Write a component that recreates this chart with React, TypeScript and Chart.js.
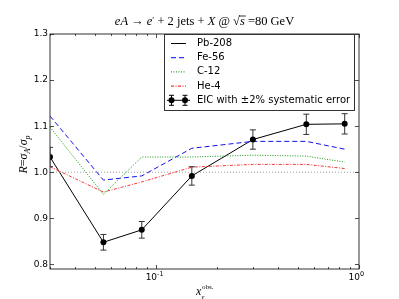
import React, { useEffect, useRef } from "react";
import { Chart, registerables } from "chart.js";

Chart.register(...registerables);

const xValues = [0.03, 0.055, 0.085, 0.15, 0.3, 0.55, 0.85];
const pb208 = [1.033, 0.848, 0.875, 0.992, 1.071, 1.104, 1.105];
const eicErr = [0.021, 0.017, 0.018, 0.02, 0.021, 0.022, 0.022];
const fe56 = [1.122, 0.983, 0.992, 1.052, 1.067, 1.067, 1.05];
const c12 = [1.098, 0.952, 1.033, 1.033, 1.037, 1.035, 1.022];
const he4 = [1.012, 0.957, 0.979, 1.011, 1.017, 1.017, 1.008];
const refX = [0.03, 1.0];
const refY = [1.0, 1.0];
const yTicks = [0.8, 0.9, 1.0, 1.1, 1.2, 1.3];
const yTickLabels = ["0.8", "0.9", "1.0", "1.1", "1.2", "1.3"];
const xMajor = [0.1, 1.0];
const xMajorExp = ["-1", "0"];
const xMinor = [0.03, 0.04, 0.05, 0.06, 0.07, 0.08, 0.09, 0.2, 0.3, 0.4, 0.5, 0.6, 0.7, 0.8, 0.9];

const legendItems = [
  { label: "Pb-208", color: "#000000", dash: [] as number[], kind: "line" },
  { label: "Fe-56", color: "#0000ff", dash: [5, 3], kind: "line" },
  { label: "C-12", color: "#008000", dash: [1, 1.5], kind: "line" },
  { label: "He-4", color: "#ff0000", dash: [3, 1.5, 1, 1.5], kind: "line" },
  { label: "EIC with \u00b12% systematic error", color: "#000000", dash: [], kind: "err" },
];

const SANS = "'DejaVu Sans', sans-serif";
const SERIF = "'Liberation Serif', 'DejaVu Serif', serif";

function pts(ys: number[]) {
  return xValues.map((x, i) => ({ x, y: ys[i] }));
}

type Seg = { t: string; it?: boolean; dy?: number; size?: number; over?: boolean };

function drawSegs(ctx: CanvasRenderingContext2D, segs: Seg[], cx: number, y: number, base: number) {
  const font = (s: Seg) => `${s.it ? "italic " : ""}${s.size ?? base}px ${SERIF}`;
  let total = 0;
  for (const s of segs) {
    ctx.font = font(s);
    total += ctx.measureText(s.t).width;
  }
  let x = cx - total / 2;
  ctx.textAlign = "left";
  ctx.textBaseline = "alphabetic";
  for (const s of segs) {
    ctx.font = font(s);
    const w = ctx.measureText(s.t).width;
    ctx.fillText(s.t, x, y + (s.dy ?? 0));
    if (s.over) {
      ctx.beginPath();
      ctx.lineWidth = 0.8;
      ctx.moveTo(x - 1, y - base * 0.72);
      ctx.lineTo(x + w + 1, y - base * 0.72);
      ctx.stroke();
    }
    x += w;
  }
}

const decorPlugin = {
  id: "decor",
  afterDatasetsDraw(chart: any) {
    const ctx: CanvasRenderingContext2D = chart.ctx;
    const { left, right, top, bottom } = chart.chartArea;
    const xs = chart.scales.x;
    const ys = chart.scales.y;
    ctx.save();
    // error bars
    ctx.save();
    ctx.beginPath();
    ctx.rect(left, top, right - left, bottom - top);
    ctx.clip();
    ctx.strokeStyle = "#333";
    ctx.lineWidth = 1;
    xValues.forEach((xv, i) => {
      const px = xs.getPixelForValue(xv);
      const y1 = ys.getPixelForValue(pb208[i] + eicErr[i]);
      const y2 = ys.getPixelForValue(pb208[i] - eicErr[i]);
      ctx.beginPath();
      ctx.moveTo(px, y1);
      ctx.lineTo(px, y2);
      ctx.moveTo(px - 3, y1);
      ctx.lineTo(px + 3, y1);
      ctx.moveTo(px - 3, y2);
      ctx.lineTo(px + 3, y2);
      ctx.stroke();
      ctx.beginPath();
      ctx.fillStyle = "#000";
      ctx.arc(px, ys.getPixelForValue(pb208[i]), 3, 0, Math.PI * 2);
      ctx.fill();
    });
    ctx.restore();

    // frame
    ctx.strokeStyle = "#333";
    ctx.lineWidth = 1;
    ctx.strokeRect(left, top, right - left, bottom - top);

    // ticks
    ctx.lineWidth = 0.8;
    ctx.strokeStyle = "#222";
    ctx.beginPath();
    yTicks.forEach((v) => {
      const py = Math.round(ys.getPixelForValue(v)) + 0.5;
      ctx.moveTo(left, py);
      ctx.lineTo(left + 4, py);
      ctx.moveTo(right, py);
      ctx.lineTo(right - 4, py);
    });
    xMajor.forEach((v) => {
      const px = Math.round(xs.getPixelForValue(v)) + 0.5;
      ctx.moveTo(px, bottom);
      ctx.lineTo(px, bottom - 4);
      ctx.moveTo(px, top);
      ctx.lineTo(px, top + 4);
    });
    xMinor.forEach((v) => {
      const px = Math.round(xs.getPixelForValue(v)) + 0.5;
      ctx.moveTo(px, bottom);
      ctx.lineTo(px, bottom - 2);
      ctx.moveTo(px, top);
      ctx.lineTo(px, top + 2);
    });
    ctx.stroke();

    // tick labels
    ctx.fillStyle = "#000";
    ctx.font = `9px ${SANS}`;
    ctx.textAlign = "right";
    ctx.textBaseline = "middle";
    yTicks.forEach((v, i) => {
      ctx.fillText(yTickLabels[i], left - 2, ys.getPixelForValue(v));
    });
    xMajor.forEach((v, i) => {
      const px = xs.getPixelForValue(v);
      ctx.font = `9px ${SANS}`;
      ctx.textAlign = "right";
      ctx.textBaseline = "alphabetic";
      ctx.fillText("10", px + 1, bottom + 11);
      ctx.font = `6.5px ${SANS}`;
      ctx.textAlign = "left";
      ctx.fillText(xMajorExp[i], px + 1, bottom + 7);
    });

    // title
    ctx.fillStyle = "#000";
    ctx.strokeStyle = "#000";
    const cx = (left + right) / 2;
    drawSegs(
      ctx,
      [
        { t: "eA", it: true },
        { t: " \u2192 " },
        { t: "e", it: true },
        { t: "\u2032", dy: -2, size: 9 },
        { t: " + 2 jets + " },
        { t: "X", it: true },
        { t: " @ \u221a" },
        { t: "s", it: true, over: true },
        { t: " =80 GeV" },
      ],
      cx,
      25,
      12.5
    );

    // x label
    const xl = "x";
    ctx.font = `italic 12px ${SERIF}`;
    const wx = ctx.measureText(xl).width;
    ctx.font = `7px ${SERIF}`;
    const wsup = ctx.measureText("obs.").width;
    const lx = cx - (wx + wsup) / 2;
    ctx.textAlign = "left";
    ctx.textBaseline = "alphabetic";
    ctx.font = `italic 12px ${SERIF}`;
    ctx.fillText(xl, lx, 295);
    ctx.font = `7px ${SERIF}`;
    ctx.fillText("obs.", lx + wx + 0.5, 289);
    ctx.font = `italic 7px ${SERIF}`;
    ctx.fillText("\u03b3", lx + wx, 299);

    // y label
    ctx.save();
    ctx.translate(27, (top + bottom) / 2 + 3);
    ctx.rotate(-Math.PI / 2);
    const ysegs: { t: string; it?: boolean; size: number; dy: number }[] = [
      { t: "R", it: true, size: 12, dy: 0 },
      { t: "=", size: 12, dy: 0 },
      { t: "\u03c3", it: true, size: 12, dy: 0 },
      { t: "A", it: true, size: 8, dy: 2.5 },
      { t: "/", size: 12, dy: 0 },
      { t: "\u03c3", it: true, size: 12, dy: 0 },
      { t: "p", it: true, size: 8, dy: 2.5 },
    ];
    let tw = 0;
    ysegs.forEach((s) => {
      ctx.font = `${s.it ? "italic " : ""}${s.size}px ${SERIF}`;
      tw += ctx.measureText(s.t).width;
    });
    let yx = -tw / 2;
    ysegs.forEach((s) => {
      ctx.font = `${s.it ? "italic " : ""}${s.size}px ${SERIF}`;
      ctx.fillText(s.t, yx, s.dy);
      yx += ctx.measureText(s.t).width;
    });
    ctx.restore();

    // legend
    const lb = { x: 164.5, y: 34.5, w: 190, h: 76 };
    ctx.fillStyle = "#fff";
    ctx.fillRect(lb.x, lb.y, lb.w, lb.h);
    ctx.strokeStyle = "#333";
    ctx.lineWidth = 1;
    ctx.strokeRect(lb.x, lb.y, lb.w, lb.h);
    legendItems.forEach((it, i) => {
      const ry = 43.5 + i * 14.2;
      if (it.kind === "line") {
        ctx.beginPath();
        ctx.strokeStyle = it.color;
        ctx.lineWidth = 1;
        ctx.setLineDash(it.dash);
        ctx.moveTo(171, ry);
        ctx.lineTo(186, ry);
        ctx.stroke();
        ctx.setLineDash([]);
      } else {
        ctx.strokeStyle = "#000";
        ctx.lineWidth = 1;
        ctx.beginPath();
        ctx.moveTo(167, ry);
        ctx.lineTo(190, ry);
        [171.5, 185].forEach((mx) => {
          ctx.moveTo(mx, ry - 5);
          ctx.lineTo(mx, ry + 5);
          ctx.moveTo(mx - 2.5, ry - 5);
          ctx.lineTo(mx + 2.5, ry - 5);
          ctx.moveTo(mx - 2.5, ry + 5);
          ctx.lineTo(mx + 2.5, ry + 5);
        });
        ctx.stroke();
        ctx.fillStyle = "#000";
        [171.5, 185].forEach((mx) => {
          ctx.beginPath();
          ctx.arc(mx, ry, 3, 0, Math.PI * 2);
          ctx.fill();
        });
      }
      ctx.fillStyle = "#000";
      ctx.font = `10px ${SANS}`;
      ctx.textAlign = "left";
      ctx.textBaseline = "middle";
      ctx.fillText(it.label, 197, ry);
    });
    ctx.restore();
  },
};

export default function App() {
  const ref = useRef<HTMLCanvasElement>(null);
  useEffect(() => {
    if (!ref.current) return;
    const chart = new Chart(ref.current, {
      type: "line",
      data: {
        datasets: [
          {
            label: "ref",
            data: refX.map((x, i) => ({ x, y: refY[i] })),
            borderColor: "#888",
            borderWidth: 0.8,
            borderDash: [1, 2],
            pointRadius: 0,
          },
          {
            label: "He-4",
            data: pts(he4),
            borderColor: "#ff3333",
            borderWidth: 1,
            borderDash: [3, 1.5, 1, 1.5],
            pointRadius: 0,
          },
          {
            label: "C-12",
            data: pts(c12),
            borderColor: "#119911",
            borderWidth: 1,
            borderDash: [1, 1.5],
            pointRadius: 0,
          },
          {
            label: "Fe-56",
            data: pts(fe56),
            borderColor: "#1111ee",
            borderWidth: 1,
            borderDash: [5, 3],
            pointRadius: 0,
          },
          {
            label: "Pb-208",
            data: pts(pb208),
            borderColor: "#000",
            borderWidth: 1,
            pointRadius: 0,
          },
        ],
      },
      options: {
        responsive: false,
        animation: false,
        events: [],
        layout: { padding: { left: 50, right: 40, top: 34, bottom: 30 } },
        plugins: { legend: { display: false }, tooltip: { enabled: false }, title: { display: false } },
        scales: {
          x: { type: "logarithmic", min: 0.03, max: 1.0, display: false },
          y: { type: "linear", min: 0.79, max: 1.3, display: false },
        },
      },
      plugins: [decorPlugin],
    });
    return () => chart.destroy();
  }, []);
  return (
    <div style={{ position: "fixed", left: 0, top: 0, width: 399, height: 299, background: "#fff" }}>
      <canvas ref={ref} width={399} height={299} />
    </div>
  );
}
